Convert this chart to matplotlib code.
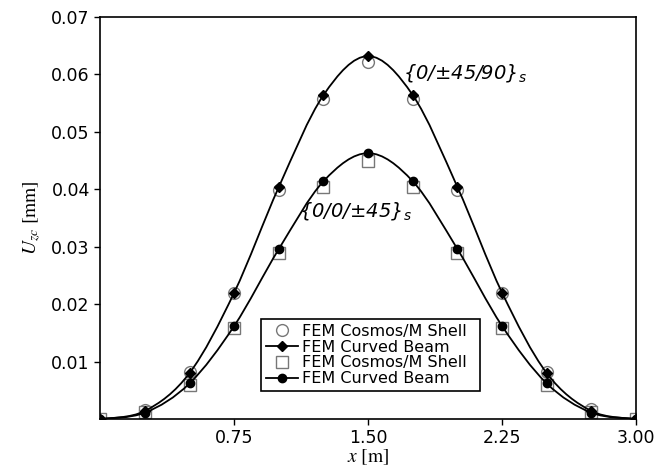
import matplotlib
matplotlib.use("Agg")
import matplotlib.pyplot as plt
from matplotlib.path import Path
from matplotlib.patches import PathPatch
from matplotlib.lines import Line2D

x = [0.0, 0.25, 0.5, 0.75, 1.0, 1.25, 1.5, 1.75, 2.0, 2.25, 2.5, 2.75, 3.0]
shell_a = [0.0, 0.0016, 0.0082, 0.0220, 0.0399, 0.0557, 0.0622, 0.0557, 0.0399, 0.0220, 0.0082, 0.0017, 0.0]
beam_a = [0.0, 0.0014, 0.0080, 0.0220, 0.0404, 0.0564, 0.0632, 0.0564, 0.0404, 0.0220, 0.0080, 0.0014, 0.0]
shell_b = [0.0, 0.0013, 0.0060, 0.0159, 0.0289, 0.0404, 0.0449, 0.0404, 0.0289, 0.0159, 0.0060, 0.0013, 0.0]
beam_b = [0.0, 0.0011, 0.0062, 0.0162, 0.0296, 0.0414, 0.0463, 0.0414, 0.0296, 0.0162, 0.0062, 0.0011, 0.0]
xticks = [0.75, 1.50, 2.25, 3.00]
yticks = [0.01, 0.02, 0.03, 0.04, 0.05, 0.06, 0.07]
legend_labels = ["FEM Cosmos/M Shell", "FEM Curved Beam", "FEM Cosmos/M Shell", "FEM Curved Beam"]


def smooth_path(xs, ys):
    # Catmull-Rom rendered as cubic Bezier segments (drawing style only)
    n = len(xs)
    verts = [(xs[0], ys[0])]
    codes = [Path.MOVETO]
    for i in range(n - 1):
        i0 = max(i - 1, 0)
        i3 = min(i + 2, n - 1)
        c1 = (xs[i] + (xs[i + 1] - xs[i0]) / 6.0, ys[i] + (ys[i + 1] - ys[i0]) / 6.0)
        c2 = (xs[i + 1] - (xs[i3] - xs[i]) / 6.0, ys[i + 1] - (ys[i3] - ys[i]) / 6.0)
        verts += [c1, c2, (xs[i + 1], ys[i + 1])]
        codes += [Path.CURVE4] * 3
    return Path(verts, codes)


plt.rcParams["mathtext.fontset"] = "stix"
fig = plt.figure(figsize=(6.55, 4.74), dpi=100)
ax = fig.add_axes([0.153, 0.116, 0.818, 0.848])

gray = "#777777"
ax.plot(x, shell_a, linestyle="none", marker="o", markersize=8.5, markerfacecolor="white",
        markeredgecolor=gray, markeredgewidth=1.0, zorder=2)
ax.plot(x, shell_b, linestyle="none", marker="s", markersize=8, markerfacecolor="white",
        markeredgecolor=gray, markeredgewidth=1.0, zorder=2)
for ys in (beam_a, beam_b):
    ax.add_patch(PathPatch(smooth_path(x, ys), fill=False, edgecolor="black", linewidth=1.3,
                           transform=ax.transData, zorder=3))
ax.plot(x, beam_a, linestyle="none", marker="D", markersize=5.5,
        markerfacecolor="black", markeredgecolor="black", zorder=4)
ax.plot(x, beam_b, linestyle="none", marker="o", markersize=6,
        markerfacecolor="black", markeredgecolor="black", zorder=4)

ax.set_xlim(0, 3.0)
ax.set_ylim(0, 0.07)
ax.set_xticks(xticks)
ax.set_xticklabels(["0.75", "1.50", "2.25", "3.00"])
ax.set_yticks(yticks)
ax.set_yticklabels(["%.2f" % v for v in yticks])
ax.tick_params(direction="out", length=4, width=1, labelsize=12.5, colors="black")
for s in ax.spines.values():
    s.set_linewidth(1.2)
    s.set_zorder(5)

ax.set_xlabel(r"$x\ \mathrm{[m]}$", fontsize=14, labelpad=0)
ax.set_ylabel(r"$U_{zc}\ \mathrm{[mm]}$", fontsize=14, labelpad=6)

ax.text(2.04, 0.0602, "{0/±45/90}$_{s}$", fontsize=14, style="italic", ha="center",
        va="center", family="DejaVu Sans", math_fontfamily="dejavusans")
ax.text(1.43, 0.0362, "{0/0/±45}$_{s}$", fontsize=14, style="italic", ha="center",
        va="center", family="DejaVu Sans", math_fontfamily="dejavusans")

handles = [
    Line2D([], [], linestyle="none", marker="o", markersize=8.5, markerfacecolor="white",
           markeredgecolor=gray, markeredgewidth=1.0),
    Line2D([], [], color="black", linewidth=1.3, marker="D", markersize=5.5,
           markerfacecolor="black", markeredgecolor="black"),
    Line2D([], [], linestyle="none", marker="s", markersize=8, markerfacecolor="white",
           markeredgecolor=gray, markeredgewidth=1.0),
    Line2D([], [], color="black", linewidth=1.3, marker="o", markersize=6,
           markerfacecolor="black", markeredgecolor="black"),
]
leg = ax.legend(handles, legend_labels, loc="lower left",
                bbox_to_anchor=(0.285, 0.05, 0.438, 0.182), mode="expand",
                fancybox=False, framealpha=1, edgecolor="black", borderpad=0.3,
                labelspacing=0.05, handlelength=2.0, handletextpad=0.3,
                prop={"family": "DejaVu Sans", "size": 11.5})
leg.get_frame().set_linewidth(1.2)

fig.savefig("out.png", dpi=100)
